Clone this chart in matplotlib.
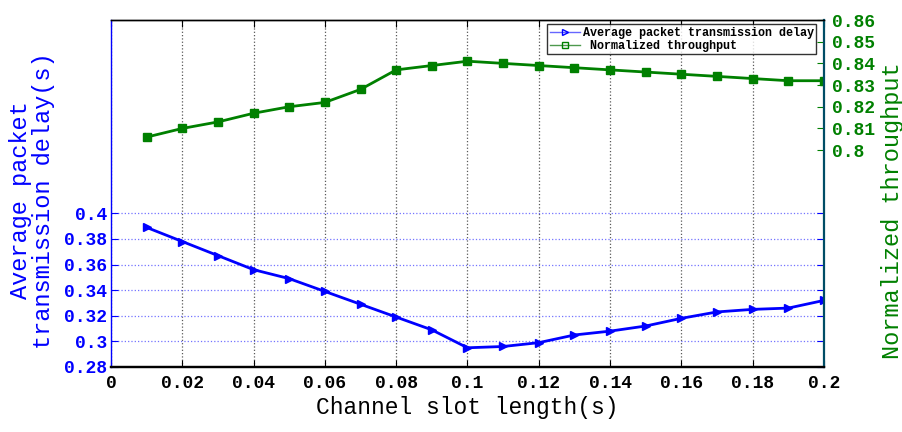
import matplotlib.pyplot as plt
from matplotlib.lines import Line2D
from matplotlib.ticker import FuncFormatter

# slot length (s)
slot = [0.01, 0.02, 0.03, 0.04, 0.05, 0.06, 0.07, 0.08, 0.09, 0.10,
        0.11, 0.12, 0.13, 0.14, 0.15, 0.16, 0.17, 0.18, 0.19, 0.20]
# average packet transmission delay (s)
delay = [0.389, 0.378, 0.367, 0.356, 0.349, 0.339, 0.329, 0.319, 0.309, 0.295,
         0.296, 0.299, 0.305, 0.308, 0.312, 0.318, 0.323, 0.325, 0.326, 0.332]
# normalized throughput
thru = [0.806, 0.810, 0.813, 0.817, 0.820, 0.822, 0.828, 0.837, 0.839, 0.841,
        0.840, 0.839, 0.838, 0.837, 0.836, 0.835, 0.834, 0.833, 0.832, 0.832]

xticks = [0, 0.02, 0.04, 0.06, 0.08, 0.1, 0.12, 0.14, 0.16, 0.18, 0.2]
yticks_delay = [0.28, 0.30, 0.32, 0.34, 0.36, 0.38, 0.40]
yticks_thru = [0.80, 0.81, 0.82, 0.83, 0.84, 0.85, 0.86]

blue = (0, 0, 1)
green = (0, 0.5, 0)
fmt = FuncFormatter(lambda v, p: '%g' % round(v, 2))

plt.rcParams['font.family'] = 'Liberation Mono'
plt.rcParams['font.weight'] = 'bold'

fig = plt.figure(figsize=(9.03, 4.32), dpi=100)
ax = fig.add_axes([0.1229, 0.1505, 0.7896, 0.8032])
ax2 = ax.twinx()

ax.plot(slot, delay, color=blue, lw=2, marker='>', ms=6, mfc=blue, mec=blue)
ax2.plot(slot, thru, color=green, lw=2, marker='s', ms=5.5, mfc=green, mec=green)

ax.set_xlim(0, 0.2)
ax.set_ylim(0.28, 0.551)
ax2.set_ylim(0.7, 0.86)

ax.set_xticks(xticks)
ax.xaxis.set_major_formatter(fmt)
ax.set_yticks(yticks_delay)
ax.yaxis.set_major_formatter(fmt)
ax2.set_yticks(yticks_thru)
ax2.yaxis.set_major_formatter(fmt)

ax.tick_params(axis='x', direction='in', top=True, length=5, labelsize=13,
               colors='black', pad=6)
ax.tick_params(axis='y', direction='in', right=True, length=5, labelsize=13,
               colors=blue, pad=3)
ax2.tick_params(axis='y', direction='in', length=5, labelsize=13,
                colors=green, pad=6)

# grid: grey dotted verticals, blue dotted horizontals
ax.grid(axis='x', color='0.35', ls=':', lw=0.9)
ax.grid(axis='y', color=(0.45, 0.45, 1), ls=':', lw=0.9)

ax.spines['left'].set_color(blue)
ax.spines['right'].set_visible(False)
ax2.spines['left'].set_visible(False)
ax2.spines['right'].set_color((0, 0.3, 0.4))
for a in (ax, ax2):
    a.spines['bottom'].set_linewidth(1.6)
    a.spines['top'].set_linewidth(1.0)
    a.spines['left'].set_linewidth(1.0)
    a.spines['right'].set_linewidth(1.6)

ax.set_xlabel('Channel slot length(s)', fontsize=16.5, fontweight='normal',
              labelpad=3)
ax.set_ylabel('Average packet\ntransmission delay(s)', fontsize=17,
              fontweight='normal', color=blue, linespacing=1.0)
ax.yaxis.set_label_coords(-0.079, 0.48)
ax2.set_ylabel('Normalized throughput', fontsize=17, fontweight='normal',
               color=green)
ax2.yaxis.set_label_coords(1.080, 0.45)

handles = [
    Line2D([], [], color=(0.4, 0.4, 1), lw=1, marker='>', ms=5, mfc='none',
           mec=blue),
    Line2D([], [], color=(0.3, 0.6, 0.3), lw=1, marker='s', ms=4, mfc='none',
           mec=green),
]
leg = ax2.legend(handles, ['Average packet transmission delay',
                           ' Normalized throughput'],
                 loc='upper right', bbox_to_anchor=(0.992, 0.994),
                 fontsize=8.5, frameon=True, fancybox=False, borderpad=0.2,
                 handlelength=2.6, handletextpad=0.2, labelspacing=0.1,
                 borderaxespad=0.2)
leg.get_frame().set_edgecolor('black')
leg.get_frame().set_linewidth(1.0)

fig.savefig('out.png', dpi=100)
